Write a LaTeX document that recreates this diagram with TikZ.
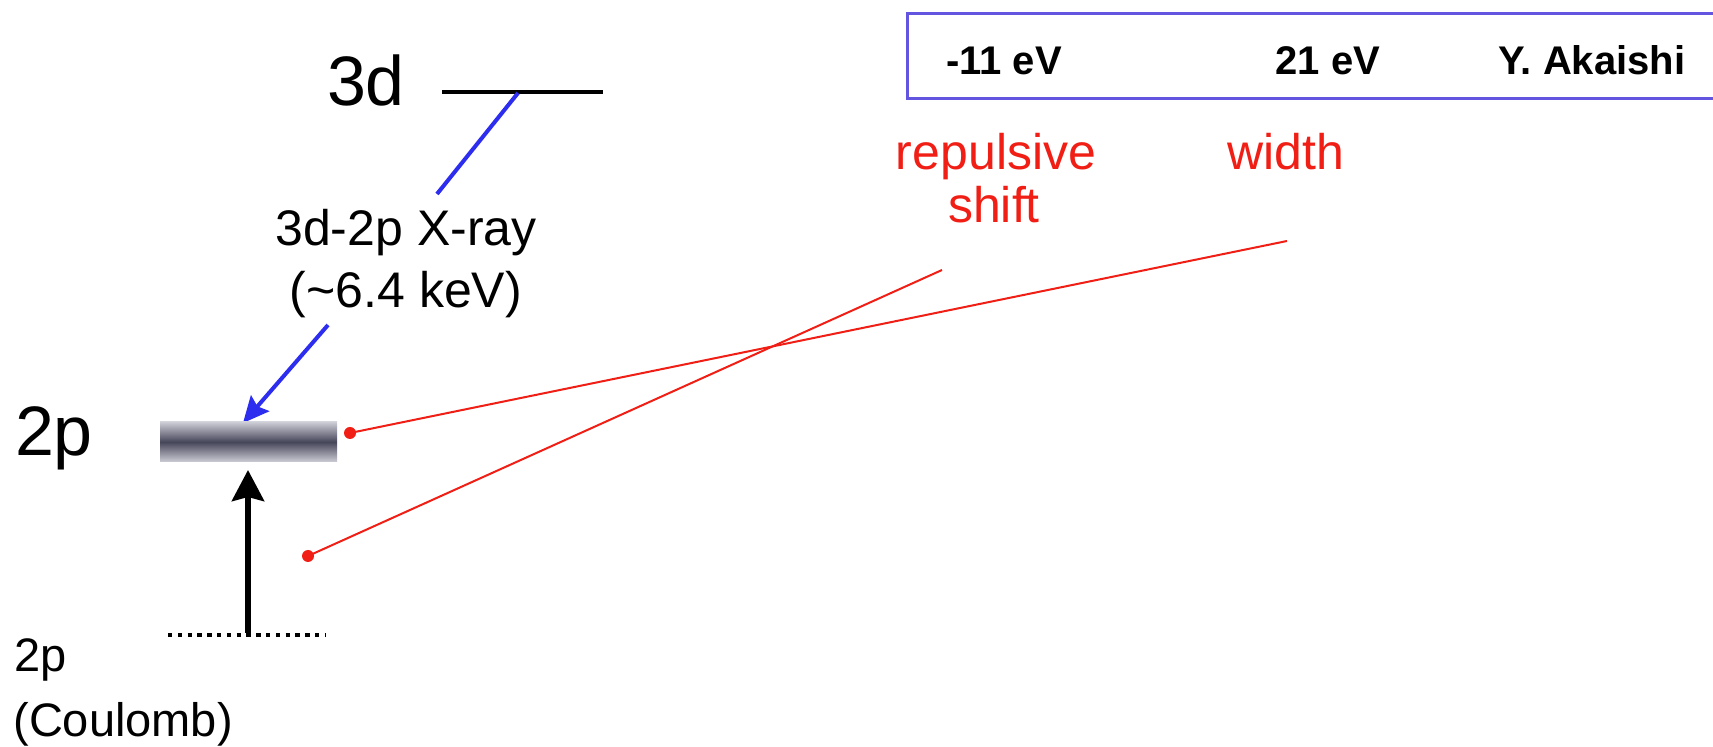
\documentclass[tikz,border=0pt]{standalone}
\usepackage{fontspec}
\setmainfont{Liberation Sans}
\usetikzlibrary{arrows.meta}
\definecolor{myblue}{RGB}{45,45,240}
\definecolor{myred}{RGB}{240,30,20}
\definecolor{boxblue}{RGB}{100,85,225}
\definecolor{bardark}{RGB}{70,70,90}
\definecolor{barlight}{RGB}{205,205,214}
\begin{document}
\begin{tikzpicture}[x=0.5pt,y=-0.5pt,
  bigtext/.style={inner sep=0pt,anchor=base,font=\fontsize{35}{42}\selectfont},
  midtext/.style={inner sep=0pt,anchor=base,font=\fontsize{25}{30}\selectfont},
  smalltext/.style={inner sep=0pt,anchor=base west,font=\fontsize{23.5}{28}\selectfont},
  redtext/.style={midtext,text=myred},
  boxtext/.style={inner sep=0pt,anchor=base,font=\bfseries\fontsize{20}{24}\selectfont},
  levelline/.style={line width=2pt,black},
  blueline/.style={line width=2pt,myblue},
  redline/.style={line width=1pt,myred},
  reddot/.style={fill=myred},
  infobox/.style={draw=boxblue,line width=1.5pt},
  barstyle/.style={minimum width=88.5pt,minimum height=20pt,inner sep=0pt,
    top color=barlight,bottom color=barlight,middle color=bardark}]
\useasboundingbox (0,0) rectangle (1713,747);
% info box
\draw[infobox] (907,14) rectangle (1740,99);
\node[boxtext] (b1) at (1004,75) {-11 eV};
\node[boxtext] (b2) at (1328,75) {21 eV};
\node[boxtext] (b3) at (1592,75) {Y. Akaishi};
% red labels
\node[redtext] (rep) at (996,170) {repulsive};
\node[redtext] (shift) at (994,223) {shift};
\node[redtext] (wid) at (1286,170) {width};
% 3d level
\node[bigtext] (t3d) at (366,106) {3d};
\coordinate (l3a) at (442,92);
\coordinate (l3b) at (603,92);
\draw[levelline] (l3a) -- (l3b);
% X-ray label
\node[midtext] (xl1) at (406,246) {3d-2p X-ray};
\node[midtext] (xl2) at (406,308) {(\textasciitilde6.4 keV)};
\coordinate (x1) at (518,93);
\coordinate (x2) at (437,194);
\coordinate (x3) at (328,325);
\coordinate (x4) at (243,423);
\draw[blueline] (x1) -- (x2);
\draw[blueline,-{Stealth[length=13pt,width=12pt,inset=2pt]}] (x3) -- (x4);
% 2p level
\node[bigtext] (t2p) at (54,456) {2p};
\node[barstyle] (bar) at (248.5,442) {};
% red connectors
\coordinate (d1) at (350,433);
\coordinate (d2) at (308,556);
\coordinate (e1) at (1287,241);
\coordinate (e2) at (942,270);
\draw[redline] (d1) -- (e1);
\draw[redline] (d2) -- (e2);
\fill[reddot] (d1) circle (3pt);
\fill[reddot] (d2) circle (3pt);
% coulomb level
\coordinate (c1) at (168,635);
\coordinate (c2) at (326,635);
\draw[line width=2.2pt,dash pattern=on 2.2pt off 2.7pt] (c1) -- (c2);
\coordinate (a0) at (248,633);
\coordinate (a1) at (248,470);
\draw[line width=3pt,-{Stealth[length=15.5pt,width=16pt,inset=2pt]}] (a0) -- (a1);
\node[smalltext] (c2p) at (14,672) {2p};
\node[smalltext] (cc) at (13,737) {(Coulomb)};
\end{tikzpicture}
\end{document}
